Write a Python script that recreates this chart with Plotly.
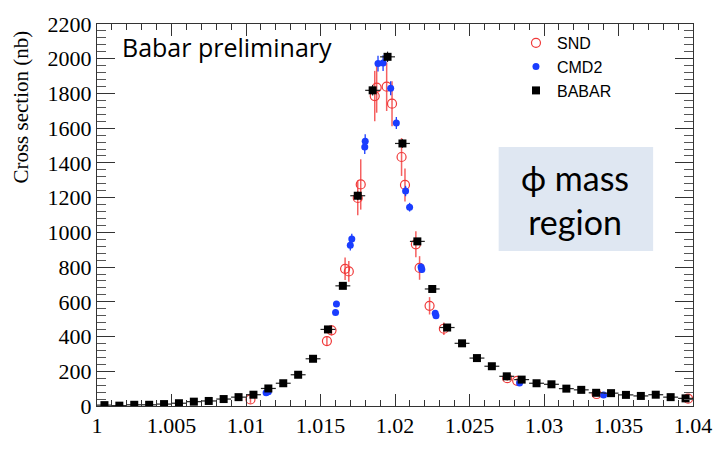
import plotly.graph_objects as go

# ---------------- data ----------------
snd_x = [1.0103, 1.01543, 1.01574, 1.01665, 1.0169, 1.0175, 1.0177, 1.01864, 1.01877,
         1.01944, 1.0198, 1.02044, 1.02067, 1.0214, 1.02165, 1.02232, 1.02328, 1.02753,
         1.0282, 1.03353, 1.03967]
snd_y = [38, 374, 436, 790, 775, 1198, 1276, 1785, 1834, 1839, 1741, 1434, 1273, 931,
         795, 577, 445, 160, 145, 69, 42]
snd_err = [20, 27, 30, 65, 60, 100, 145, 145, 145, 140, 130, 109, 95, 75, 68, 50, 36,
           15, 15, 8, 8]

cmd2_x = [1.01135, 1.0115, 1.01601, 1.01607, 1.0170, 1.0171, 1.01797, 1.0180, 1.01886,
          1.0192, 1.01971, 1.02009, 1.02071, 1.02098, 1.02175, 1.0218, 1.0227, 1.02275,
          1.02836, 1.0340]
cmd2_y = [76, 82, 539, 587, 926, 962, 1492, 1525, 1972, 1975, 1830, 1630, 1238, 1145,
          800, 786, 534, 520, 132, 64]
cmd2_err = [5, 5, 12, 12, 30, 30, 40, 40, 45, 45, 40, 35, 30, 25, 20, 20, 15, 15, 8, 5]

babar_x = [1.0005, 1.0015, 1.0025, 1.0035, 1.0045, 1.0055, 1.0065, 1.0075, 1.0085, 1.0095,
           1.0105, 1.0115, 1.0125, 1.0135, 1.0145, 1.0155, 1.0165, 1.0175, 1.0185, 1.0195,
           1.0205, 1.0215, 1.0225, 1.0235, 1.0245, 1.0255, 1.0265, 1.0275, 1.0285, 1.0295,
           1.0305, 1.0315, 1.0325, 1.0335, 1.0345, 1.0355, 1.0365, 1.0375, 1.0385, 1.0395]
babar_y = [5, 2, 7, 7, 11, 16, 25, 29, 40, 51, 65, 101, 131, 180, 272, 441, 692, 1211,
           1818, 2011, 1512, 948, 674, 452, 361, 276, 229, 171, 152, 131, 125, 100, 93, 76,
           74, 64, 58, 65, 51, 44]
babar_xerr = [0.0005] * len(babar_x)
babar_yerr = [3, 3, 3, 3, 3, 4, 4, 4, 5, 5, 5, 6, 6, 7, 8, 10, 15, 25, 30, 30,
              25, 20, 15, 10, 8, 7, 6, 6, 5, 5, 5, 5, 4, 4, 4, 4, 4, 4, 4, 4]

x_ticks = [1.0, 1.005, 1.01, 1.015, 1.02, 1.025, 1.03, 1.035, 1.04]
x_tick_labels = ["1", "1.005", "1.01", "1.015", "1.02", "1.025", "1.03", "1.035", "1.04"]
y_ticks = [0, 200, 400, 600, 800, 1000, 1200, 1400, 1600, 1800, 2000, 2200]
y_tick_labels = [str(v) for v in y_ticks]

# ---------------- figure ----------------
fig = go.Figure()

fig.add_trace(go.Scatter(
    x=snd_x, y=snd_y, mode="markers", name="SND", legendgroup="a",
    marker=dict(symbol="circle-open", size=9, color="#f03a3a", line=dict(width=1.2)),
    error_y=dict(type="data", array=snd_err, color="#f56060", thickness=1.5, width=0),
))
fig.add_trace(go.Scatter(
    x=cmd2_x, y=cmd2_y, mode="markers", name="CMD2", legendgroup="b",
    marker=dict(symbol="circle", size=7, color="#1a3dff"),
    error_y=dict(type="data", array=cmd2_err, color="#1a3dff", thickness=1.3, width=0),
))
fig.add_trace(go.Scatter(
    x=babar_x, y=babar_y, mode="markers", name="BABAR", legendgroup="c",
    marker=dict(symbol="square", size=8, color="black"),
    error_x=dict(type="data", array=babar_xerr, color="#222222", thickness=1.2, width=0),
    error_y=dict(type="data", array=babar_yerr, color="#222222", thickness=1.2, width=0),
))

serif = "Liberation Serif"

fig.update_layout(
    width=724, height=450,
    margin=dict(l=97, r=29, t=12, b=34),
    paper_bgcolor="white", plot_bgcolor="white",
    showlegend=True,
    legend=dict(x=0.7013, y=0.995, xanchor="left", yanchor="top",
                font=dict(family="Liberation Sans", size=16, color="black"),
                bgcolor="rgba(0,0,0,0)", tracegroupgap=0, traceorder="grouped",
                itemwidth=32),
    xaxis=dict(range=[1.0, 1.04], tickmode="array", tickvals=x_ticks, ticktext=x_tick_labels,
               ticks="inside", ticklen=12, tickwidth=1, tickcolor="#333",
               showline=True, linecolor="#333", linewidth=1, mirror="ticks",
               showgrid=False, zeroline=False,
               tickfont=dict(family=serif, size=22, color="black"),
               minor=dict(dtick=0.001, tick0=1.0, ticks="inside", ticklen=6,
                          tickcolor="#333", showgrid=False)),
    yaxis=dict(range=[0, 2200], tickmode="array", tickvals=y_ticks, ticktext=y_tick_labels,
               ticks="inside", ticklen=18, tickwidth=1, tickcolor="#333",
               showline=True, linecolor="#333", linewidth=1, mirror="ticks",
               showgrid=False, zeroline=False,
               tickfont=dict(family=serif, size=22, color="black"),
               minor=dict(dtick=40, tick0=0, ticks="inside", ticklen=9,
                          tickcolor="#555", showgrid=False)),
)

fig.add_annotation(text="Cross section (nb)", textangle=-90, xref="paper", yref="paper",
                   x=-0.127, y=0.782, xanchor="center", yanchor="middle", showarrow=False,
                   font=dict(family=serif, size=21, color="black"))

fig.add_annotation(text="Babar preliminary", xref="paper", yref="paper",
                   x=(120 - 97) / 598, y=(416 - 36) / 404, xanchor="left", yanchor="middle",
                   showarrow=False,
                   font=dict(family="Open Sans", size=25, color="black"))

fig.add_shape(type="rect", xref="paper", yref="paper",
              x0=(500 - 97) / 598, x1=(655 - 97) / 598,
              y0=(416 - 252) / 404, y1=(416 - 142) / 404,
              fillcolor="#dfe7f2", line=dict(width=0), layer="below")
fig.add_annotation(text="ϕ mass<br>region", xref="paper", yref="paper",
                   x=(577 - 97) / 598, y=(416 - 198) / 404, xanchor="center", yanchor="middle",
                   showarrow=False, align="center",
                   font=dict(family="Lato", size=34, color="black"))

fig.write_html("out.html")
